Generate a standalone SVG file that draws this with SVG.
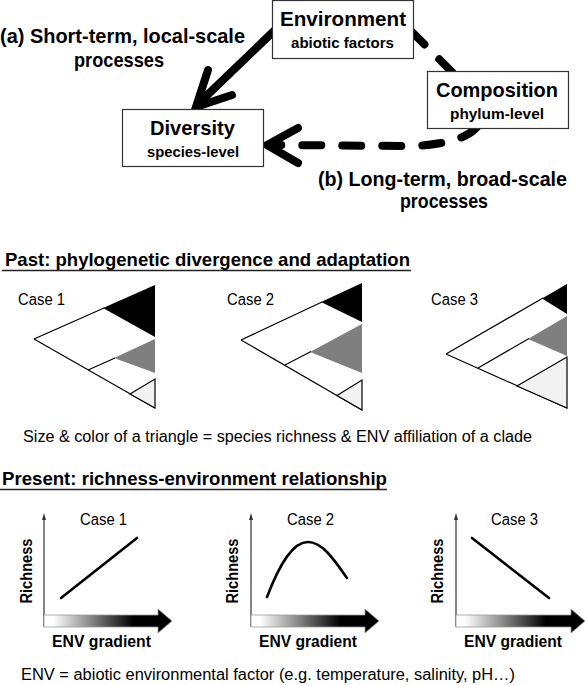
<svg xmlns="http://www.w3.org/2000/svg" width="585" height="685" viewBox="0 0 585 685">
<style>
text{font-family:"Liberation Sans",Arial,sans-serif;fill:#000}
.b{font-weight:bold}
.big{font-size:20.5px}
.sm{font-size:15.5px}
.hd{font-size:18.6px;font-weight:bold}
.reg{font-size:16px}
.box{fill:#fff;stroke:#333;stroke-width:1.2}
.edge{fill:none;stroke:#000;stroke-width:1.2}
.ax{stroke:#333;stroke-width:1.2;fill:none}
.curve{fill:none;stroke:#000;stroke-width:2.6;stroke-linecap:round}
.solid{fill:none;stroke:#000;stroke-width:8;stroke-linecap:round;stroke-linejoin:miter}
.dash{fill:none;stroke:#000;stroke-width:8;stroke-linecap:round;stroke-dasharray:19 21}
.grad{fill:url(#g);stroke:#999;stroke-width:0.8}
</style>
<defs>
<linearGradient id="g" x1="0" y1="0" x2="1" y2="0">
<stop offset="0" stop-color="#fff"/>
<stop offset="0.07" stop-color="#fff"/>
<stop offset="0.7" stop-color="#000"/>
<stop offset="1" stop-color="#000"/>
</linearGradient>
</defs>

<g id="connectors">
<line class="solid" x1="276" y1="29" x2="198" y2="104"/>
<polyline class="solid" points="208,70 196,107 232,95"/>
<line class="dash" x1="411" y1="31" x2="455" y2="75"/>
<path class="dash" d="M477,127 Q462,144 412,146 L274,145"/>
<polyline class="solid" style="stroke-linejoin:round" points="298,128 267,145 298,163"/>
</g>

<g id="environment">
<rect class="box" x="272.5" y="0.5" width="141" height="58"/>
<text class="b big" x="343" y="26" text-anchor="middle" textLength="126" lengthAdjust="spacingAndGlyphs">Environment</text>
<text class="b sm" x="342.5" y="48" text-anchor="middle" textLength="103" lengthAdjust="spacingAndGlyphs">abiotic factors</text>
</g>
<g id="composition">
<rect class="box" x="427.5" y="71.5" width="141" height="57"/>
<text class="b big" x="497" y="97" text-anchor="middle" textLength="122" lengthAdjust="spacingAndGlyphs">Composition</text>
<text class="b sm" x="497" y="119" text-anchor="middle" textLength="94" lengthAdjust="spacingAndGlyphs">phylum-level</text>
</g>
<g id="diversity">
<rect class="box" x="122.5" y="109.5" width="141" height="57"/>
<text class="b big" x="192.5" y="135" text-anchor="middle" textLength="85" lengthAdjust="spacingAndGlyphs">Diversity</text>
<text class="b sm" x="193" y="157" text-anchor="middle" textLength="92" lengthAdjust="spacingAndGlyphs">species-level</text>
</g>
<g id="label-a">
<text class="b big" x="0" y="43" textLength="245" lengthAdjust="spacingAndGlyphs">(a) Short-term, local-scale</text>
<text class="b big" x="74" y="67" textLength="90" lengthAdjust="spacingAndGlyphs">processes</text>
</g>
<g id="label-b">
<text class="b big" x="318" y="186" textLength="249" lengthAdjust="spacingAndGlyphs">(b) Long-term, broad-scale</text>
<text class="b big" x="400" y="208" textLength="88" lengthAdjust="spacingAndGlyphs">processes</text>
</g>

<g id="past">
<text class="hd" x="5" y="266" textLength="405" lengthAdjust="spacingAndGlyphs">Past: phylogenetic divergence and adaptation</text>
<line x1="2" y1="270.5" x2="411" y2="270.5" stroke="#222" stroke-width="1.5"/>
</g>

<g id="tree1">
<text class="reg" x="18" y="305" textLength="47" lengthAdjust="spacingAndGlyphs">Case 1</text>
<polygon points="103,308 155,285 155,337" fill="#000"/>
<polygon points="114,358 155,339 155,373" fill="#7f7f7f"/>
<line class="edge" x1="34" y1="339" x2="104" y2="308"/>
<line class="edge" x1="34" y1="339" x2="155" y2="408"/>
<line class="edge" x1="88" y1="370" x2="115" y2="358"/>
<polygon class="edge" points="130,394 155,379 155,408" style="fill:#f2f2f2"/>
</g>
<g id="tree2">
<text class="reg" x="227" y="305" textLength="47" lengthAdjust="spacingAndGlyphs">Case 2</text>
<polygon points="321,302 362,283 362,322" fill="#000"/>
<polygon points="310,352 362,324 362,373" fill="#7f7f7f"/>
<line class="edge" x1="241" y1="340" x2="322" y2="302"/>
<line class="edge" x1="241" y1="340" x2="362" y2="410"/>
<line class="edge" x1="285" y1="365" x2="311" y2="351.5"/>
<polygon class="edge" points="337,395.5 362,380 362,410" style="fill:#f2f2f2"/>
</g>
<g id="tree3">
<text class="reg" x="431" y="305" textLength="47" lengthAdjust="spacingAndGlyphs">Case 3</text>
<polygon points="542,298.5 567,284 567,314" fill="#000"/>
<polygon points="528,339 567,316 567,356" fill="#7f7f7f"/>
<line class="edge" x1="446" y1="354" x2="543" y2="298"/>
<line class="edge" x1="446" y1="354" x2="567" y2="408"/>
<line class="edge" x1="478" y1="368" x2="529" y2="338.5"/>
<polygon class="edge" points="517,386 567,357 567,408" style="fill:#f2f2f2"/>
</g>

<g id="size-note">
<text class="reg" x="23" y="442" textLength="509" lengthAdjust="spacingAndGlyphs">Size &amp; color of a triangle = species richness &amp; ENV affiliation of a clade</text>
</g>

<g id="present">
<text class="hd" x="2" y="485" textLength="385" lengthAdjust="spacingAndGlyphs">Present: richness-environment relationship</text>
<line x1="0" y1="489.5" x2="387" y2="489.5" stroke="#222" stroke-width="1.5"/>
</g>

<g id="plot1">
<line class="ax" x1="44" y1="627" x2="44" y2="519"/>
<polygon points="44,513 42,520 46,520" fill="#333"/>
<text class="reg" x="103.5" y="525" text-anchor="middle" textLength="47" lengthAdjust="spacingAndGlyphs">Case 1</text>
<text class="b" style="font-size:16px" transform="translate(32,571) rotate(-90)" text-anchor="middle" textLength="65" lengthAdjust="spacingAndGlyphs">Richness</text>
<line class="curve" x1="61" y1="598" x2="137" y2="538"/>
<path class="grad" d="M44,615 H158 V609 L172,621 L158,633 V627 H44 Z"/>
<text class="b" style="font-size:16px" x="101.5" y="647" text-anchor="middle" textLength="99" lengthAdjust="spacingAndGlyphs">ENV gradient</text>
</g>
<g id="plot2">
<line class="ax" x1="251" y1="627" x2="251" y2="519"/>
<polygon points="251,513 249,520 253,520" fill="#333"/>
<text class="reg" x="310.5" y="525" text-anchor="middle" textLength="47" lengthAdjust="spacingAndGlyphs">Case 2</text>
<text class="b" style="font-size:16px" transform="translate(238,571) rotate(-90)" text-anchor="middle" textLength="65" lengthAdjust="spacingAndGlyphs">Richness</text>
<path class="curve" d="M267,597 C280,563 293,542 308,542 C322,542 333,558 347,578"/>
<path class="grad" d="M251,615 H365 V609 L379,621 L365,633 V627 H251 Z"/>
<text class="b" style="font-size:16px" x="308" y="647" text-anchor="middle" textLength="98" lengthAdjust="spacingAndGlyphs">ENV gradient</text>
</g>
<g id="plot3">
<line class="ax" x1="456" y1="627" x2="456" y2="519"/>
<polygon points="456,513 454,520 458,520" fill="#333"/>
<text class="reg" x="514.5" y="525" text-anchor="middle" textLength="47" lengthAdjust="spacingAndGlyphs">Case 3</text>
<text class="b" style="font-size:16px" transform="translate(443,571) rotate(-90)" text-anchor="middle" textLength="65" lengthAdjust="spacingAndGlyphs">Richness</text>
<line class="curve" x1="472" y1="538" x2="549" y2="598"/>
<path class="grad" d="M456,615 H571 V609 L585,621 L571,633 V627 H456 Z"/>
<text class="b" style="font-size:16px" x="513" y="647" text-anchor="middle" textLength="98" lengthAdjust="spacingAndGlyphs">ENV gradient</text>
</g>

<g id="env-note">
<text class="reg" x="21" y="680" textLength="494" lengthAdjust="spacingAndGlyphs">ENV = abiotic environmental factor (e.g. temperature, salinity, pH…)</text>
</g>
</svg>
